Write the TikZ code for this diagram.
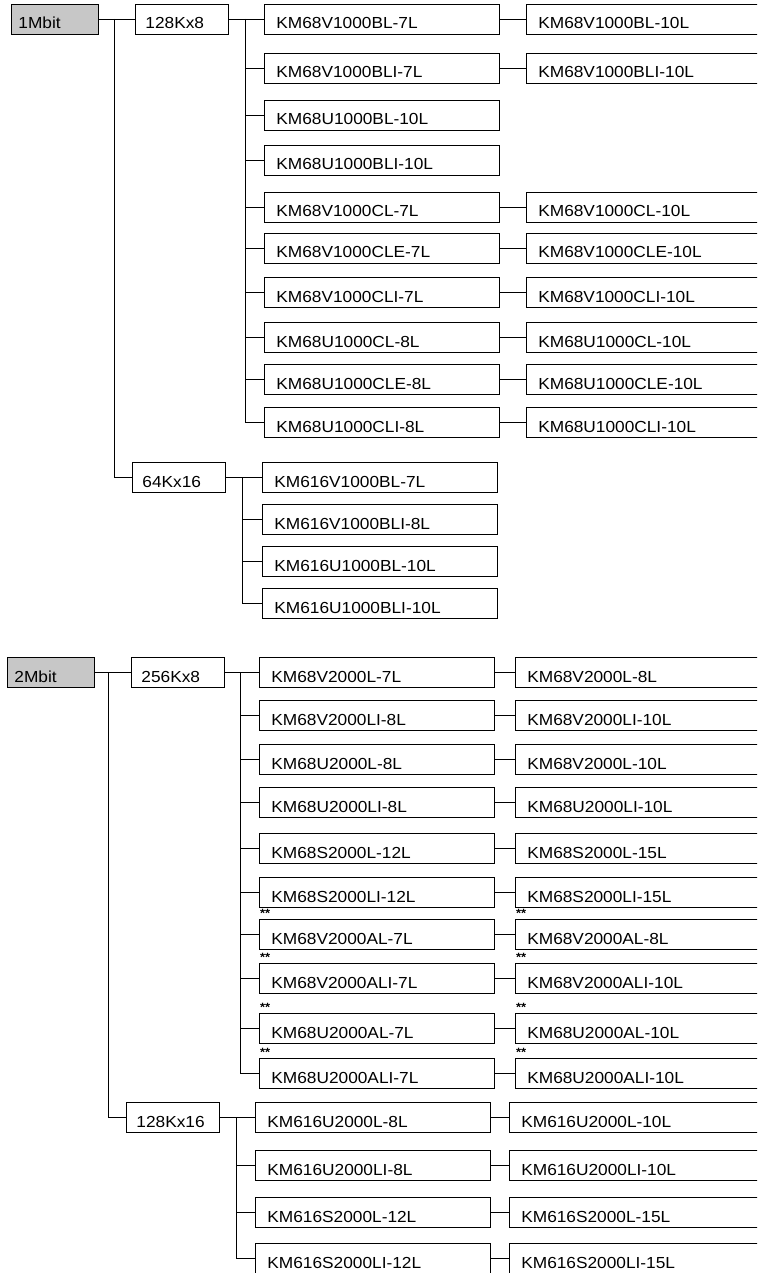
\documentclass[tikz,border=0pt]{standalone}
\usepackage{fontspec}
\setmainfont[FakeStretch=1.08]{Liberation Sans}
\usetikzlibrary{positioning}

\begin{document}
\begin{tikzpicture}[
    x=1pt, y=-1pt,
    box/.style={draw, line width=0.9pt, minimum height=30pt, inner ysep=3pt,
                text height=20pt, text depth=0pt, anchor=west, align=left,
                font=\fontsize{16}{18}\selectfont},
    density/.style={box, fill=black!22, text width=73pt, inner xsep=7pt},
    org/.style={box, text width=73pt, inner xsep=10pt},
    part/.style={box, text width=211pt, inner xsep=12pt},
    partb/.style={box, text width=240pt, inner xsep=12pt},
    starlbl/.style={anchor=base west, inner sep=0pt, xshift=1pt, yshift=1pt,
                    font=\fontsize{12}{12}\selectfont\bfseries},
    ln/.style={line width=0.9pt},
]
\useasboundingbox (0,0) rectangle (757,1273);
\clip (0,0) rectangle (757,1273);

% 1Mbit family.
\node[density] (mb1)    at (11,19)    {1Mbit};
\node[org]     (k128x8) at (135,19)   {128Kx8};
\node[org]     (k64x16) at (132,477.5) {64Kx16};
\coordinate (r1) at (114,19);
\coordinate (t1) at (245,19);
\coordinate (t2) at (242,477.5);

\node[part] (a1)  at (264,19)  {KM68V1000BL-7L};
\node[part] (a2)  at (264,68)  {KM68V1000BLI-7L};
\node[part] (a3)  at (264,115) {KM68U1000BL-10L};
\node[part] (a4)  at (264,160) {KM68U1000BLI-10L};
\node[part] (a5)  at (264,207) {KM68V1000CL-7L};
\node[part] (a6)  at (264,248) {KM68V1000CLE-7L};
\node[part] (a7)  at (264,292) {KM68V1000CLI-7L};
\node[part] (a8)  at (264,337) {KM68U1000CL-8L};
\node[part] (a9)  at (264,379) {KM68U1000CLE-8L};
\node[part] (a10) at (264,422) {KM68U1000CLI-8L};

\node[partb, right=26pt of a1]  (b1)  {KM68V1000BL-10L};
\node[partb, right=26pt of a2]  (b2)  {KM68V1000BLI-10L};
\node[partb, right=26pt of a5]  (b5)  {KM68V1000CL-10L};
\node[partb, right=26pt of a6]  (b6)  {KM68V1000CLE-10L};
\node[partb, right=26pt of a7]  (b7)  {KM68V1000CLI-10L};
\node[partb, right=26pt of a8]  (b8)  {KM68U1000CL-10L};
\node[partb, right=26pt of a9]  (b9)  {KM68U1000CLE-10L};
\node[partb, right=26pt of a10] (b10) {KM68U1000CLI-10L};

\node[part] (d1) at (262,477.5) {KM616V1000BL-7L};
\node[part] (d2) at (262,519)   {KM616V1000BLI-8L};
\node[part] (d3) at (262,561)   {KM616U1000BL-10L};
\node[part] (d4) at (262,603)   {KM616U1000BLI-10L};

% 2Mbit family.
\node[density] (mb2)     at (7,672)      {2Mbit};
\node[org]     (k256x8)  at (131,672)    {256Kx8};
\node[org]     (k128x16) at (126,1117.5) {128Kx16};
\coordinate (r2) at (108,672);
\coordinate (t3) at (240,672);
\coordinate (t4) at (236,1117.5);

\node[part] (e1)  at (259,672)  {KM68V2000L-7L};
\node[part] (e2)  at (259,715)  {KM68V2000LI-8L};
\node[part] (e3)  at (259,759)  {KM68U2000L-8L};
\node[part] (e4)  at (259,802)  {KM68U2000LI-8L};
\node[part] (e5)  at (259,848)  {KM68S2000L-12L};
\node[part] (e6)  at (259,892)  {KM68S2000LI-12L};
\node[part] (e7)  at (259,934)  {KM68V2000AL-7L};
\node[part] (e8)  at (259,978)  {KM68V2000ALI-7L};
\node[part] (e9)  at (259,1028) {KM68U2000AL-7L};
\node[part] (e10) at (259,1073) {KM68U2000ALI-7L};

\node[partb, right=20pt of e1]  (f1)  {KM68V2000L-8L};
\node[partb, right=20pt of e2]  (f2)  {KM68V2000LI-10L};
\node[partb, right=20pt of e3]  (f3)  {KM68V2000L-10L};
\node[partb, right=20pt of e4]  (f4)  {KM68U2000LI-10L};
\node[partb, right=20pt of e5]  (f5)  {KM68S2000L-15L};
\node[partb, right=20pt of e6]  (f6)  {KM68S2000LI-15L};
\node[partb, right=20pt of e7]  (f7)  {KM68V2000AL-8L};
\node[partb, right=20pt of e8]  (f8)  {KM68V2000ALI-10L};
\node[partb, right=20pt of e9]  (f9)  {KM68U2000AL-10L};
\node[partb, right=20pt of e10] (f10) {KM68U2000ALI-10L};

\node[part] (g1) at (255,1117.5) {KM616U2000L-8L};
\node[part] (g2) at (255,1165)   {KM616U2000LI-8L};
\node[part] (g3) at (255,1212)   {KM616S2000L-12L};
\node[part] (g4) at (255,1258)   {KM616S2000LI-12L};

\node[partb, right=18pt of g1] (h1) {KM616U2000L-10L};
\node[partb, right=18pt of g2] (h2) {KM616U2000LI-10L};
\node[partb, right=18pt of g3] (h3) {KM616S2000L-15L};
\node[partb, right=18pt of g4] (h4) {KM616S2000LI-15L};

% Marked parts.
\node[starlbl] (s7)  at (e7.north west)  {**};
\node[starlbl] (s8)  at (e8.north west)  {**};
\node[starlbl] (s9)  at (e9.north west)  {**};
\node[starlbl] (s10) at (e10.north west) {**};
\node[starlbl] (u7)  at (f7.north west)  {**};
\node[starlbl] (u8)  at (f8.north west)  {**};
\node[starlbl] (u9)  at (f9.north west)  {**};
\node[starlbl] (u10) at (f10.north west) {**};

% Tree lines, 1Mbit.
\draw[ln] (mb1) -- (k128x8);
\draw[ln] (r1) |- (k64x16);
\draw[ln] (k128x8) -- (a1);
\draw[ln] (t1) |- (a2) (t1) |- (a3) (t1) |- (a4) (t1) |- (a5) (t1) |- (a6)
          (t1) |- (a7) (t1) |- (a8) (t1) |- (a9) (t1) |- (a10);
\draw[ln] (a1) -- (b1) (a2) -- (b2) (a5) -- (b5) (a6) -- (b6)
          (a7) -- (b7) (a8) -- (b8) (a9) -- (b9) (a10) -- (b10);
\draw[ln] (k64x16) -- (d1);
\draw[ln] (t2) |- (d2) (t2) |- (d3) (t2) |- (d4);

% Tree lines, 2Mbit.
\draw[ln] (mb2) -- (k256x8);
\draw[ln] (r2) |- (k128x16);
\draw[ln] (k256x8) -- (e1);
\draw[ln] (t3) |- (e2) (t3) |- (e3) (t3) |- (e4) (t3) |- (e5) (t3) |- (e6)
          (t3) |- (e7) (t3) |- (e8) (t3) |- (e9) (t3) |- (e10);
\draw[ln] (e1) -- (f1) (e2) -- (f2) (e3) -- (f3) (e4) -- (f4) (e5) -- (f5)
          (e6) -- (f6) (e7) -- (f7) (e8) -- (f8) (e9) -- (f9) (e10) -- (f10);
\draw[ln] (k128x16) -- (g1);
\draw[ln] (t4) |- (g2) (t4) |- (g3) (t4) |- (g4);
\draw[ln] (g1) -- (h1) (g2) -- (h2) (g3) -- (h3) (g4) -- (h4);
\end{tikzpicture}
\end{document}
